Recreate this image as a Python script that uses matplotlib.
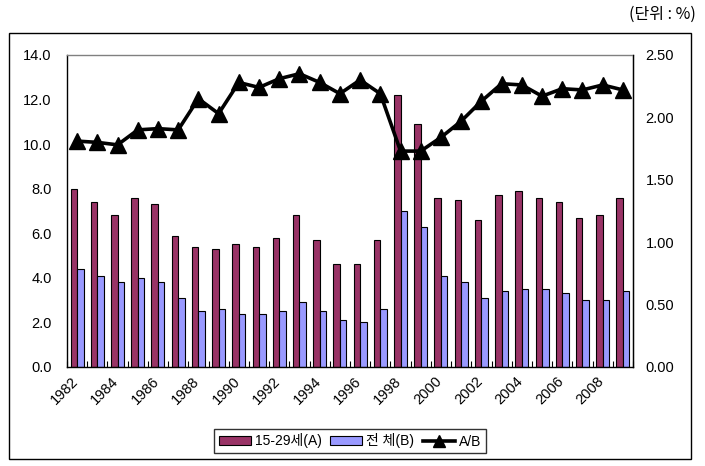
import matplotlib
matplotlib.use("Agg")
import matplotlib.pyplot as plt
import matplotlib.transforms as mtransforms
from matplotlib.patches import Rectangle, Patch
from matplotlib.lines import Line2D
import numpy as np

plt.rcParams['font.family'] = ['Liberation Sans', 'Noto Sans CJK KR', 'DejaVu Sans']

years = list(range(1982, 2010))
youth_A = [8.0, 7.4, 6.8, 7.6, 7.3, 5.9, 5.4, 5.3, 5.5, 5.4, 5.8, 6.8, 5.7, 4.6,
           4.6, 5.7, 12.2, 10.9, 7.6, 7.5, 6.6, 7.7, 7.9, 7.6, 7.4, 6.7, 6.8, 7.6]
total_B = [4.4, 4.1, 3.8, 4.0, 3.8, 3.1, 2.5, 2.6, 2.4, 2.4, 2.5, 2.9, 2.5, 2.1,
           2.0, 2.6, 7.0, 6.3, 4.1, 3.8, 3.1, 3.4, 3.5, 3.5, 3.3, 3.0, 3.0, 3.4]
ratio_AB = [1.81, 1.80, 1.78, 1.90, 1.91, 1.90, 2.15, 2.03, 2.28, 2.24, 2.31, 2.35,
            2.28, 2.19, 2.30, 2.19, 1.73, 1.73, 1.84, 1.97, 2.13, 2.27, 2.26, 2.17,
            2.23, 2.22, 2.26, 2.22]
tick_labels = [str(y) if (y - 1982) % 2 == 0 else '' for y in years]
legend_labels = ['15-29세(A)', '전 체(B)', 'A/B']
unit_text = '(단위 : %)'

col_A = '#993366'
col_B = '#9999FF'

fig = plt.figure(figsize=(7.05, 4.66), dpi=100)
fig.patch.set_facecolor('white')

# outer frame
fig.patches.append(Rectangle((9/705, 7/466), 682/705, 426/466, transform=fig.transFigure,
                             fill=False, edgecolor='black', linewidth=1.0))

ax = fig.add_axes([67/705, 99/466, 566/705, 312/466])
x = np.arange(len(years))
w = 0.32
ax.bar(x - w/2, youth_A, width=w, color=col_A, edgecolor='black', linewidth=0.8, zorder=2)
ax.bar(x + w/2, total_B, width=w, color=col_B, edgecolor='black', linewidth=0.8, zorder=2)
ax.set_xlim(-0.5, len(years) - 0.5)
ax.set_ylim(0, 14)
ax.set_yticks(np.arange(0, 14.1, 2))
ax.set_yticklabels([f'{v:.1f}' for v in np.arange(0, 14.1, 2)])
ax.tick_params(axis='y', length=0, pad=11, labelsize=10.5)

ax.set_xticks(x)
ax.set_xticklabels(tick_labels, rotation=45, ha='right', va='top', rotation_mode='anchor')
ax.tick_params(axis='x', length=0, pad=5, labelsize=10.5)
offset = mtransforms.ScaledTranslation(-6/100, 0, fig.dpi_scale_trans)
for lab in ax.get_xticklabels():
    lab.set_transform(lab.get_transform() + offset)
ax.set_xticks(np.arange(-0.5, len(years), 1), minor=True)
ax.tick_params(axis='x', which='minor', direction='in', length=4, width=0.8)

for s in ['left', 'bottom', 'right']:
    ax.spines[s].set_color('black')
    ax.spines[s].set_linewidth(1.0)
ax.spines['top'].set_color('#808080')
ax.spines['top'].set_linewidth(1.0)

ax2 = ax.twinx()
ax2.plot(x, ratio_AB, color='black', linewidth=2.6, marker='^', markersize=11,
         markerfacecolor='black', markeredgecolor='black', zorder=3)
ax2.set_ylim(0, 2.5)
ax2.set_yticks(np.arange(0, 2.51, 0.5))
ax2.set_yticklabels([f'{v:.2f}' for v in np.arange(0, 2.51, 0.5)])
ax2.tick_params(axis='y', length=0, pad=9, labelsize=10.5)
ax2.spines['top'].set_visible(False)
ax2.spines['left'].set_visible(False)
ax2.spines['bottom'].set_visible(False)
ax2.spines['right'].set_color('black')

handles = [Patch(facecolor=col_A, edgecolor='black', linewidth=0.8),
           Patch(facecolor=col_B, edgecolor='black', linewidth=0.8),
           Line2D([0], [0], color='black', linewidth=2.6, marker='^', markersize=8)]
leg = fig.legend(handles, legend_labels, loc='center', bbox_to_anchor=(350/705, 25/466),
                 ncol=3, frameon=True, fancybox=False, edgecolor='black', fontsize=10,
                 handlelength=2.3, handletextpad=0.3, columnspacing=0.6,
                 borderpad=0.35, handleheight=0.6)
leg.get_frame().set_linewidth(1.0)

fig.text(696/705, 1 - 14/466, unit_text, ha='right', va='center', fontsize=11.5,
         family=['Noto Sans CJK KR', 'DejaVu Sans'])

fig.savefig('out.png', dpi=100, facecolor='white')
